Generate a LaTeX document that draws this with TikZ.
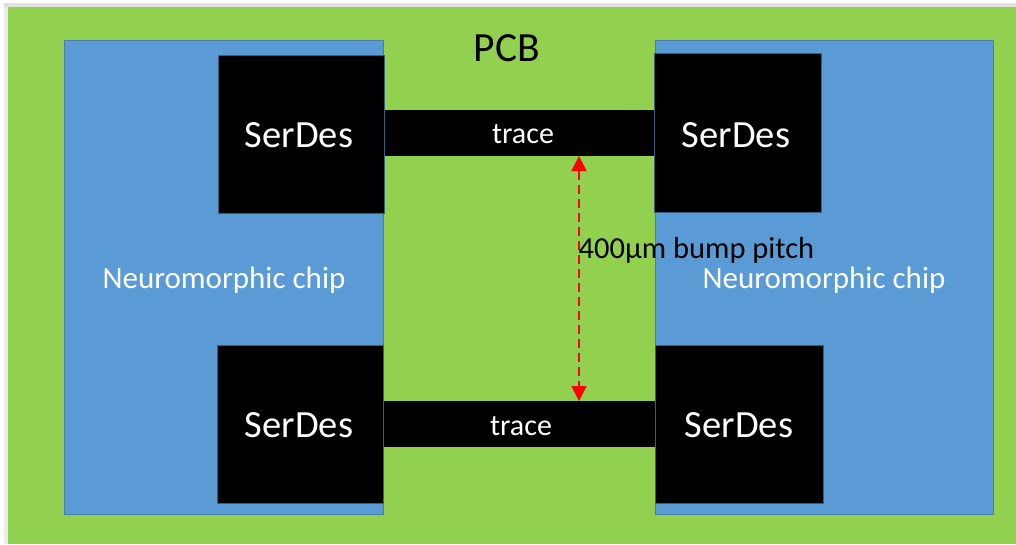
\documentclass[tikz,border=0pt]{standalone}
\usepackage{fontspec}
\setmainfont{Carlito}
\usetikzlibrary{arrows.meta}
\definecolor{pcbgreen}{HTML}{92D050}
\definecolor{chipblue}{HTML}{5B9BD5}
\definecolor{arrowred}{HTML}{FF0000}
\tikzset{
  box/.style={rectangle, inner sep=0pt, outer sep=0pt},
  chipbox/.style={box, fill=chipblue, draw=chipblue!80!black, line width=0.4pt},
  serdes/.style={box, fill=black, draw=chipblue!60!black, line width=0.4pt},
  tracebox/.style={box, fill=black},
  lab/.style={inner sep=0pt, anchor=base},
  serdeslabel/.style={lab, text=white, font=\fontsize{38.5}{44}\selectfont},
  tracelabel/.style={lab, text=white, font=\fontsize{30}{34}\selectfont},
  chiplabel/.style={lab, text=white, font=\fontsize{31}{36}\selectfont},
  pitcharrow/.style={arrowred, line width=1.6pt, dash pattern=on 9pt off 5pt, {Triangle[length=15pt,width=15pt]}-{Triangle[length=15pt,width=15pt]}}
}
\begin{document}
\begin{tikzpicture}[x=1pt,y=-1pt]
\useasboundingbox (0,0) rectangle (1016,544);
\fill[white] (0,0) rectangle (1016,544);
\fill[black!12] (4,3) rectangle (1016,7);
\fill[black!8] (4,7) rectangle (8,544);
\node[box, fill=pcbgreen, minimum width=1008pt, minimum height=537pt] (pcb) at (512,275.5) {};
\node[lab, font=\fontsize{41.5}{48}\selectfont] (pcblabel) at (507,61.5) {PCB};
\node[chipbox, minimum width=319pt, minimum height=474pt] (chipL) at (223.5,277) {};
\node[chipbox, minimum width=338pt, minimum height=474pt] (chipR) at (824,277) {};
\node[tracebox, minimum width=272pt, minimum height=46pt] (traceT) at (519,133) {};
\node[tracebox, minimum width=273pt, minimum height=46pt] (traceB) at (519,424) {};
\node[serdes, minimum width=166pt, minimum height=158pt] (sdTL) at (301,134) {};
\node[serdes, minimum width=167pt, minimum height=159pt] (sdTR) at (737.5,132.5) {};
\node[serdes, minimum width=166pt, minimum height=158pt] (sdBL) at (300,424) {};
\node[serdes, minimum width=168pt, minimum height=158pt] (sdBR) at (739,424) {};
\node[tracelabel] (trT) at (523,143.3) {trace};
\node[tracelabel] (trB) at (521,435) {trace};
\node[serdeslabel] (sTL) at (299,147.3) {SerDes};
\node[serdeslabel] (sTR) at (736,147.3) {SerDes};
\node[serdeslabel] (sBL) at (299,437.3) {SerDes};
\node[serdeslabel] (sBR) at (739,437.3) {SerDes};
\node[chiplabel] (labL) at (224,288.3) {Neuromorphic chip};
\node[chiplabel] (labR) at (824,288.3) {Neuromorphic chip};
\coordinate (pTop) at (579,156);
\coordinate (pBot) at (579,401);
\draw[pitcharrow] (pTop) -- (pBot);
\node[inner sep=0pt, anchor=base west, font=\fontsize{30.5}{35}\selectfont] (pitch) at (578.5,258.3) {400µm bump pitch};
\end{tikzpicture}
\end{document}
